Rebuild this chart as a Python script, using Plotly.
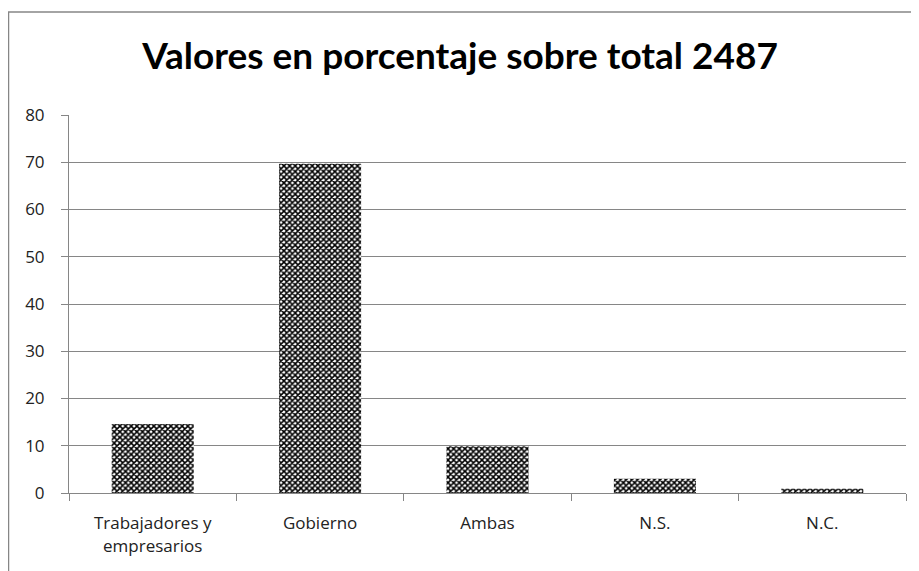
import plotly.graph_objects as go

categories = ["Trabajadores y<br>empresarios", "Gobierno", "Ambas", "N.S.", "N.C."]
values = [14.6, 69.7, 9.9, 3.0, 0.9]
y_ticks = [0, 10, 20, 30, 40, 50, 60, 70, 80]

W, H = 919, 571
OFF = 8  # page body offset
ml, mt = 69 - OFF, 115 - OFF
pw, ph = 837, 378
mr = W - ml - pw
mb = H - mt - ph

fig = go.Figure(go.Bar(
    x=categories, y=values,
    marker=dict(color="#ffffff", line=dict(width=0),
                pattern=dict(shape="x", fgcolor="black", bgcolor="#ffffff",
                             size=4, solidity=0.62, fillmode="replace")),
    hoverinfo="skip",
))

fig.update_layout(
    width=W, height=H,
    margin=dict(l=ml, r=mr, t=mt, b=mb),
    paper_bgcolor="white", plot_bgcolor="white",
    bargap=0.51,
    showlegend=False,
    title=dict(text="<b>Valores en porcentaje sobre total 2487</b>",
               x=(460 - OFF) / W, xanchor="center", y=1 - (56 - OFF) / H, yanchor="middle",
               font=dict(family="Lato", size=37, color="black")),
    font=dict(family="Open Sans", size=17, color="#222"),
)
fig.update_xaxes(
    showline=True, linecolor="#868686", linewidth=1,
    ticks="outside", tickson="boundaries", ticklen=7, tickcolor="#868686",
    tickfont=dict(family="Open Sans", size=17, color="#222"),
    showgrid=False,
    ticklabelstandoff=15,
)
fig.update_yaxes(
    range=[0, 80], tickvals=y_ticks,
    showline=True, linecolor="#868686", linewidth=1,
    ticks="outside", ticklen=7, tickcolor="#868686",
    showgrid=True, gridcolor="#868686", gridwidth=1,
    zeroline=False,
    tickfont=dict(family="Open Sans", size=17, color="#222"),
    ticklabelstandoff=13,
)

# outer chart border (extends beyond visible window on right and bottom)
fig.add_shape(type="rect", xref="paper", yref="paper",
              x0=(0.5 - ml) / pw, x1=(W + 20 - ml) / pw,
              y0=-(H + 20 - mt - ph) / ph, y1=(ph + mt - 4) / ph,
              line=dict(color="#868686", width=1.5), fillcolor="rgba(0,0,0,0)",
              layer="below")

fig.write_html("out.html")
